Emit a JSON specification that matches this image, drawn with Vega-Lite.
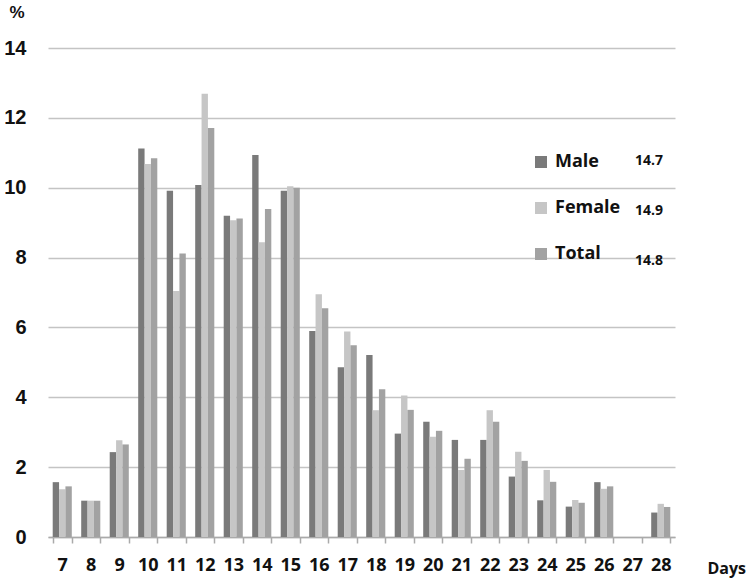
{
  "$schema": "https://vega.github.io/schema/vega-lite/v6.json",
  "autosize": "none",
  "width": 627,
  "height": 489,
  "padding": {"left": 48, "top": 48, "right": 77, "bottom": 45},
  "background": "white",
  "config": {"view": {"stroke": null}, "font": "Liberation Sans"},
  "data": {"values": [
    {"day": 7, "series": "Male", "value": 1.57, "mean": "14.7"},
    {"day": 7, "series": "Female", "value": 1.37, "mean": "14.9"},
    {"day": 7, "series": "Total", "value": 1.45, "mean": "14.8"},
    {"day": 8, "series": "Male", "value": 1.04, "mean": "14.7"},
    {"day": 8, "series": "Female", "value": 1.04, "mean": "14.9"},
    {"day": 8, "series": "Total", "value": 1.04, "mean": "14.8"},
    {"day": 9, "series": "Male", "value": 2.43, "mean": "14.7"},
    {"day": 9, "series": "Female", "value": 2.77, "mean": "14.9"},
    {"day": 9, "series": "Total", "value": 2.65, "mean": "14.8"},
    {"day": 10, "series": "Male", "value": 11.12, "mean": "14.7"},
    {"day": 10, "series": "Female", "value": 10.68, "mean": "14.9"},
    {"day": 10, "series": "Total", "value": 10.84, "mean": "14.8"},
    {"day": 11, "series": "Male", "value": 9.91, "mean": "14.7"},
    {"day": 11, "series": "Female", "value": 7.04, "mean": "14.9"},
    {"day": 11, "series": "Total", "value": 8.12, "mean": "14.8"},
    {"day": 12, "series": "Male", "value": 10.08, "mean": "14.7"},
    {"day": 12, "series": "Female", "value": 12.69, "mean": "14.9"},
    {"day": 12, "series": "Total", "value": 11.71, "mean": "14.8"},
    {"day": 13, "series": "Male", "value": 9.2, "mean": "14.7"},
    {"day": 13, "series": "Female", "value": 9.07, "mean": "14.9"},
    {"day": 13, "series": "Total", "value": 9.12, "mean": "14.8"},
    {"day": 14, "series": "Male", "value": 10.94, "mean": "14.7"},
    {"day": 14, "series": "Female", "value": 8.44, "mean": "14.9"},
    {"day": 14, "series": "Total", "value": 9.39, "mean": "14.8"},
    {"day": 15, "series": "Male", "value": 9.91, "mean": "14.7"},
    {"day": 15, "series": "Female", "value": 10.04, "mean": "14.9"},
    {"day": 15, "series": "Total", "value": 10.0, "mean": "14.8"},
    {"day": 16, "series": "Male", "value": 5.9, "mean": "14.7"},
    {"day": 16, "series": "Female", "value": 6.95, "mean": "14.9"},
    {"day": 16, "series": "Total", "value": 6.55, "mean": "14.8"},
    {"day": 17, "series": "Male", "value": 4.86, "mean": "14.7"},
    {"day": 17, "series": "Female", "value": 5.88, "mean": "14.9"},
    {"day": 17, "series": "Total", "value": 5.49, "mean": "14.8"},
    {"day": 18, "series": "Male", "value": 5.21, "mean": "14.7"},
    {"day": 18, "series": "Female", "value": 3.63, "mean": "14.9"},
    {"day": 18, "series": "Total", "value": 4.23, "mean": "14.8"},
    {"day": 19, "series": "Male", "value": 2.96, "mean": "14.7"},
    {"day": 19, "series": "Female", "value": 4.05, "mean": "14.9"},
    {"day": 19, "series": "Total", "value": 3.64, "mean": "14.8"},
    {"day": 20, "series": "Male", "value": 3.3, "mean": "14.7"},
    {"day": 20, "series": "Female", "value": 2.87, "mean": "14.9"},
    {"day": 20, "series": "Total", "value": 3.04, "mean": "14.8"},
    {"day": 21, "series": "Male", "value": 2.78, "mean": "14.7"},
    {"day": 21, "series": "Female", "value": 1.92, "mean": "14.9"},
    {"day": 21, "series": "Total", "value": 2.24, "mean": "14.8"},
    {"day": 22, "series": "Male", "value": 2.78, "mean": "14.7"},
    {"day": 22, "series": "Female", "value": 3.63, "mean": "14.9"},
    {"day": 22, "series": "Total", "value": 3.3, "mean": "14.8"},
    {"day": 23, "series": "Male", "value": 1.73, "mean": "14.7"},
    {"day": 23, "series": "Female", "value": 2.44, "mean": "14.9"},
    {"day": 23, "series": "Total", "value": 2.18, "mean": "14.8"},
    {"day": 24, "series": "Male", "value": 1.05, "mean": "14.7"},
    {"day": 24, "series": "Female", "value": 1.92, "mean": "14.9"},
    {"day": 24, "series": "Total", "value": 1.58, "mean": "14.8"},
    {"day": 25, "series": "Male", "value": 0.87, "mean": "14.7"},
    {"day": 25, "series": "Female", "value": 1.06, "mean": "14.9"},
    {"day": 25, "series": "Total", "value": 0.98, "mean": "14.8"},
    {"day": 26, "series": "Male", "value": 1.57, "mean": "14.7"},
    {"day": 26, "series": "Female", "value": 1.38, "mean": "14.9"},
    {"day": 26, "series": "Total", "value": 1.45, "mean": "14.8"},
    {"day": 27, "series": "Male", "value": 0, "mean": "14.7"},
    {"day": 27, "series": "Female", "value": 0, "mean": "14.9"},
    {"day": 27, "series": "Total", "value": 0, "mean": "14.8"},
    {"day": 28, "series": "Male", "value": 0.7, "mean": "14.7"},
    {"day": 28, "series": "Female", "value": 0.95, "mean": "14.9"},
    {"day": 28, "series": "Total", "value": 0.86, "mean": "14.8"}
  ]},
  "mark": {"type": "bar"},
  "encoding": {
    "x": {
      "field": "day", "type": "ordinal",
      "scale": {"paddingInner": 0.33, "paddingOuter": 0.165},
      "axis": {
        "title": "Days", "titleFont": "Open Sans", "titleFontSize": 16, "titleFontWeight": "bold", "titleColor": "#111",
        "titleAlign": "left", "titleAnchor": "start", "titleBaseline": "alphabetic", "titleX": 659, "titleY": 36,
        "labelAngle": 0, "labelFont": "Open Sans", "labelFontSize": 18, "labelFontWeight": "bold", "labelColor": "#111",
        "labelPadding": 13,
        "tickBand": "extent", "tickSize": 6, "tickColor": "#aaaaaa", "domainColor": "#aaaaaa", "domainWidth": 1.5, "tickWidth": 1.5,
        "grid": false
      }
    },
    "xOffset": {"field": "series", "type": "nominal", "sort": ["Male", "Female", "Total"]},
    "y": {
      "field": "value", "type": "quantitative",
      "scale": {"domain": [0, 14], "nice": false},
      "axis": {
        "title": "%", "titleAngle": 0, "titleAlign": "left", "titleBaseline": "alphabetic", "titleX": -39, "titleY": -31,
        "titleFont": "Liberation Sans", "titleFontSize": 17, "titleFontWeight": "bold", "titleColor": "#111",
        "values": [0, 2, 4, 6, 8, 10, 12, 14],
        "labelFont": "Liberation Sans", "labelFontSize": 20, "labelFontWeight": "bold", "labelColor": "#111",
        "labelPadding": 22, "ticks": false, "domain": false,
        "grid": true, "gridColor": "#c4c4c4", "gridWidth": 1.5
      }
    },
    "color": {
      "field": "series", "type": "nominal",
      "scale": {"domain": ["Male", "Female", "Total"], "range": ["#7a7a7a", "#c6c6c6", "#a2a2a2"]},
      "legend": {
        "orient": "none", "legendX": 484, "legendY": 105, "title": null,
        "symbolType": "square", "symbolSize": 144, "symbolStrokeWidth": 0,
        "labelFont": "Open Sans", "labelFontSize": 18, "labelFontWeight": "bold", "labelColor": "#111",
        "rowPadding": 28, "labelOffset": 5, "padding": 0
      }
    },
    "opacity": {
      "field": "mean", "type": "nominal",
      "scale": {"domain": ["14.7", "14.9", "14.8"], "range": [1, 1, 1]},
      "legend": {
        "orient": "none", "legendX": 573, "legendY": 106, "title": null,
        "symbolSize": 0, "symbolOpacity": 0, "symbolStrokeWidth": 0,
        "labelFont": "Open Sans", "labelFontSize": 14, "labelFontWeight": "bold", "labelColor": "#111",
        "rowPadding": 36, "labelOffset": 0, "padding": 0
      }
    }
  }
}
